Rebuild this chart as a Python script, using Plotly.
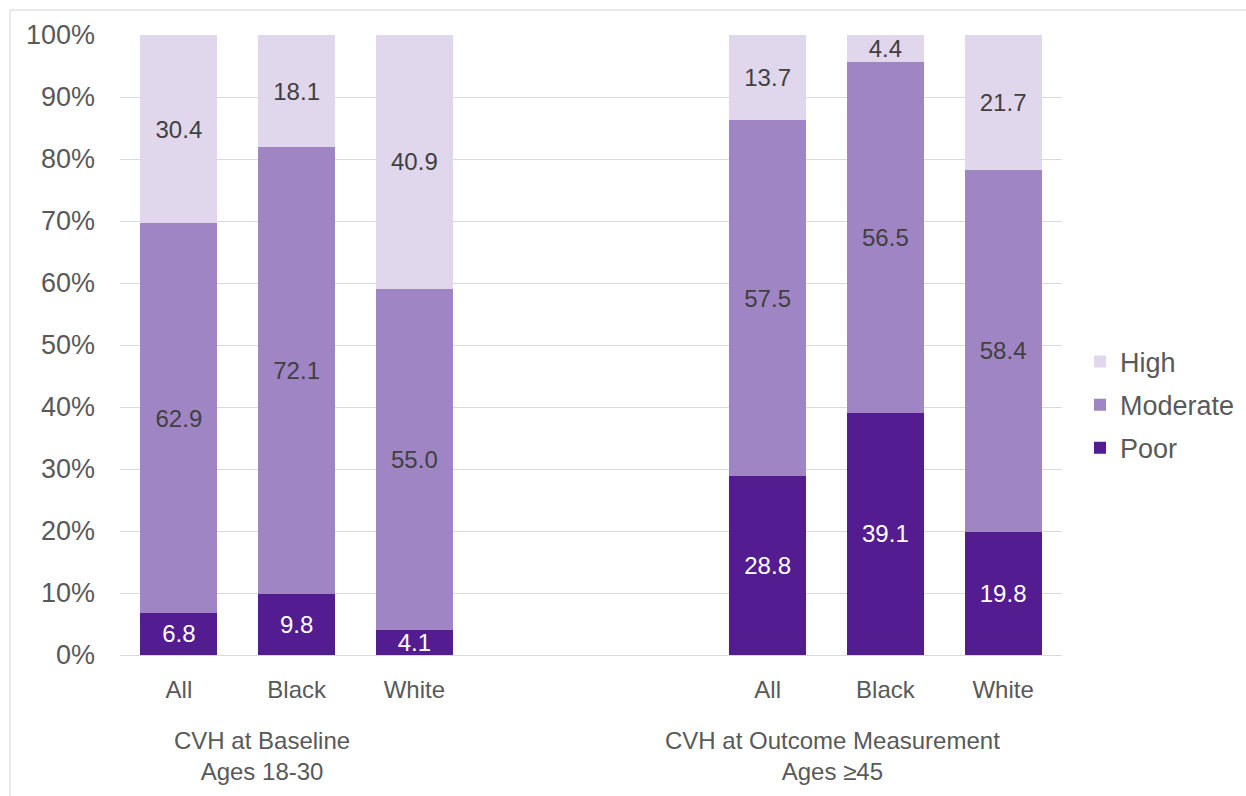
import plotly.graph_objects as go

# Category slots: three bars per period, two empty slots between the groups
positions = [0, 1, 2, 5, 6, 7]
categories = ["All", "Black", "White", "All", "Black", "White"]
group_labels = ["CVH at Baseline<br>Ages 18-30", "CVH at Outcome Measurement<br>Ages ≥45"]
group_label_x = [0.706, 5.547]

poor = [6.8, 9.8, 4.1, 28.8, 39.1, 19.8]
moderate = [62.9, 72.1, 55.0, 57.5, 56.5, 58.4]
high = [30.4, 18.1, 40.9, 13.7, 4.4, 21.7]

y_ticks = list(range(0, 101, 10))
y_ticktext = [f"{v}%" for v in y_ticks]

# (name, values, fill, label colour, legend rank)
series = [
    ("Poor", poor, "#531C91", "#FFFFFF", 3),
    ("Moderate", moderate, "#A085C5", "#404040", 2),
    ("High", high, "#E0D7EC", "#404040", 1),
]

FONT = "Liberation Sans, Arial, sans-serif"

fig = go.Figure()
for name, vals, color, txtcolor, rank in series:
    fig.add_trace(go.Bar(
        x=positions,
        y=vals,
        name=name,
        legendgroup=name,
        legendrank=rank,
        marker=dict(color=color, line=dict(width=0)),
        width=0.655,
        text=[f"{v:.1f}" for v in vals],
        textposition="inside",
        insidetextanchor="middle",
        textangle=0,
        constraintext="none",
        textfont=dict(family=FONT, size=24, color=txtcolor),
        cliponaxis=False,
    ))

for gx, gl in zip(group_label_x, group_labels):
    fig.add_annotation(
        x=gx, xref="x", y=0, yref="paper", yshift=-101,
        text=gl, showarrow=False, xanchor="center", yanchor="middle",
        font=dict(family=FONT, size=24, color="#595959"),
    )

# Light frame on the top and left edges
L, T = 120, 35
PW, PH = 942, 620
fig.add_shape(type="line", xref="paper", yref="paper",
              x0=(10 - L) / PW, x1=(1246 - L) / PW,
              y0=(T + PH - 10) / PH, y1=(T + PH - 10) / PH,
              line=dict(color="#E3E3E3", width=1.5))
fig.add_shape(type="line", xref="paper", yref="paper",
              x0=(10 - L) / PW, x1=(10 - L) / PW,
              y0=(T + PH - 10) / PH, y1=(T + PH - 800) / PH,
              line=dict(color="#E3E3E3", width=1.5))

fig.update_layout(
    width=1246, height=796,
    margin=dict(l=L, r=1246 - L - PW, t=T, b=796 - T - PH, autoexpand=False),
    barmode="stack",
    barnorm="percent",
    plot_bgcolor="white",
    paper_bgcolor="white",
    font=dict(family=FONT, color="#595959"),
    showlegend=True,
    legend=dict(
        traceorder="grouped",
        xref="container", yref="container",
        x=1080 / 1246, xanchor="left",
        y=1 - 405 / 796, yanchor="middle",
        font=dict(family=FONT, size=27, color="#595959"),
        itemwidth=30,
        tracegroupgap=5,
        bgcolor="rgba(0,0,0,0)",
    ),
    xaxis=dict(
        range=[-0.5, 7.5],
        tickmode="array",
        tickvals=positions,
        ticktext=categories,
        tickfont=dict(family=FONT, size=24, color="#595959"),
        ticks="",
        ticklabelstandoff=18,
        showgrid=False,
        showline=False,
        zeroline=False,
    ),
    yaxis=dict(
        range=[0, 100.001],
        tickmode="array",
        tickvals=y_ticks,
        ticktext=y_ticktext,
        tickfont=dict(family=FONT, size=27, color="#595959"),
        ticks="",
        ticklabelstandoff=24,
        showgrid=True,
        gridcolor="#D9D9D9",
        gridwidth=1.3,
        zeroline=True,
        zerolinecolor="#D9D9D9",
        zerolinewidth=1.3,
        showline=False,
    ),
)

fig.write_html("out.html")
